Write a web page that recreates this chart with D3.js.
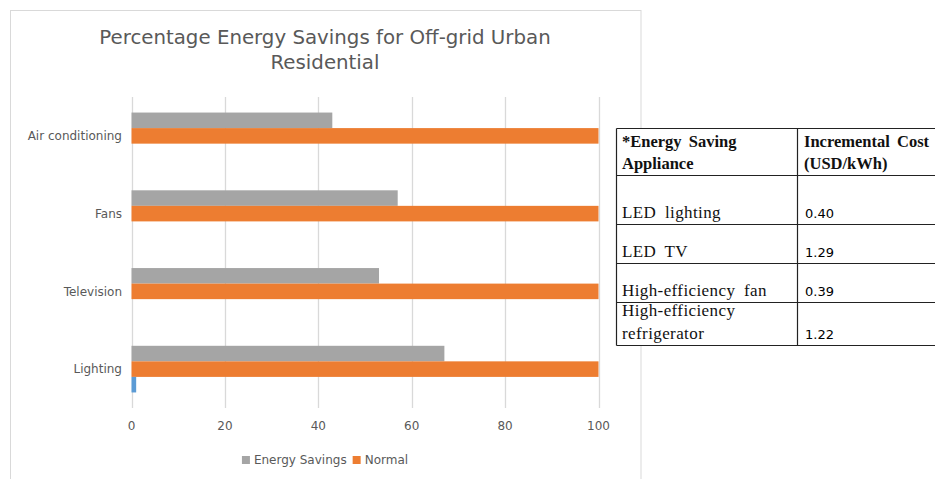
<!DOCTYPE html>
<html>
<head>
<meta charset="utf-8">
<script src="https://cdn.jsdelivr.net/npm/d3@7.9.0/dist/d3.min.js"></script>
<style>
  body { margin: 0; background: #fff; }
  svg { display: block; }
</style>
</head>
<body>
<svg id="chart" width="935" height="479"></svg>
<script>
// --- DATA ---
const categories = ["Air conditioning", "Fans", "Television", "Lighting"];
const seriesNames = ["Energy Savings", "Normal", "Series3"];
const energySavings = [43, 57, 53, 67];
const normal = [100, 100, 100, 100];
const thirdSeries = [0, 0, 0, 1];
const xTicks = [0, 20, 40, 60, 80, 100];
const legendNames = ["Energy Savings", "Normal"];

const tableHeader = [["*Energy Saving", "Appliance"], ["Incremental Cost", "(USD/kWh)"]];
const appliances = [["", "LED lighting"], ["", "LED TV"], ["", "High-efficiency fan"], ["High-efficiency", "refrigerator"]];
const costs = ["0.40", "1.29", "0.39", "1.22"];

const colors = { "Energy Savings": "#A5A5A5", "Normal": "#ED7D31", "Series3": "#5B9BD5" };
const textColor = "#595959";
const gridColor = "#D9D9D9";
const font = "'DejaVu Sans', sans-serif";

const svg = d3.select("#chart");

// --- CHART FRAME ---
svg.append("rect")
  .attr("x", 10.5).attr("y", 10.5)
  .attr("width", 630.5).attr("height", 490)
  .attr("fill", "#fff")
  .attr("stroke", gridColor)
  .attr("stroke-width", 1);

// --- TITLE ---
const title = svg.append("text")
  .attr("text-anchor", "middle")
  .attr("font-family", font)
  .attr("font-size", 19.8)
  .attr("fill", textColor);
title.append("tspan").attr("x", 325).attr("y", 44).text("Percentage Energy Savings for Off-grid Urban");
title.append("tspan").attr("x", 325).attr("y", 69).text("Residential");

// --- SCALES ---
const x = d3.scaleLinear().domain([0, 100]).range([131.5, 598.5]);
const y = d3.scaleBand().domain(categories).range([97, 408]).paddingInner(0.4).paddingOuter(0.2);
const ySub = d3.scaleBand().domain(seriesNames).range([0, y.bandwidth()]);

// gridlines
svg.append("g")
  .selectAll("line")
  .data(xTicks)
  .join("line")
  .attr("x1", d => Math.round(x(d)) + 0.5)
  .attr("x2", d => Math.round(x(d)) + 0.5)
  .attr("y1", 97).attr("y2", 408)
  .attr("stroke", gridColor)
  .attr("stroke-width", 1.3);

// bars
const rows = categories.map((c, i) => ({
  category: c,
  values: [
    { name: "Energy Savings", value: energySavings[i] },
    { name: "Normal", value: normal[i] },
    { name: "Series3", value: thirdSeries[i] }
  ]
}));

svg.append("g")
  .selectAll("g")
  .data(rows)
  .join("g")
  .attr("transform", d => `translate(0,${y(d.category)})`)
  .selectAll("rect")
  .data(d => d.values)
  .join("rect")
  .attr("x", x(0))
  .attr("y", d => ySub(d.name))
  .attr("width", d => x(d.value) - x(0))
  .attr("height", ySub.bandwidth())
  .attr("fill", d => colors[d.name]);

// category labels
svg.append("g")
  .selectAll("text")
  .data(categories)
  .join("text")
  .attr("x", 122)
  .attr("y", d => y(d) + y.bandwidth() / 2)
  .attr("dy", "0.35em")
  .attr("text-anchor", "end")
  .attr("font-family", font)
  .attr("font-size", 12)
  .attr("fill", textColor)
  .text(d => d);

// x tick labels
svg.append("g")
  .selectAll("text")
  .data(xTicks)
  .join("text")
  .attr("x", d => x(d))
  .attr("y", 430)
  .attr("text-anchor", "middle")
  .attr("font-family", font)
  .attr("font-size", 12)
  .attr("fill", textColor)
  .text(d => d);

// --- LEGEND ---
const legend = svg.append("g");
let lx = 0;
legendNames.forEach(name => {
  const item = legend.append("g").attr("transform", `translate(${lx},0)`);
  item.append("rect").attr("x", 0).attr("y", -4).attr("width", 8).attr("height", 8).attr("fill", colors[name]);
  const t = item.append("text")
    .attr("x", 12).attr("y", 0).attr("dy", "0.35em")
    .attr("font-family", font).attr("font-size", 12).attr("fill", textColor)
    .text(name);
  lx += 12 + t.node().getComputedTextLength() + 6;
});
legend.attr("transform", `translate(${325 - (lx - 6) / 2},460)`);

// --- TABLE ---
const tableX = 616.5, colX = 797.5, tableRight = 960;
const rowLines = [128.5, 175.5, 224.5, 263.5, 302.5, 345.5];
const table = svg.append("g");
table.append("rect")
  .attr("x", tableX).attr("y", rowLines[0])
  .attr("width", tableRight - tableX).attr("height", rowLines[5] - rowLines[0])
  .attr("fill", "#fff");
table.selectAll("line.h")
  .data(rowLines)
  .join("line")
  .attr("class", "h")
  .attr("x1", tableX).attr("x2", tableRight)
  .attr("y1", d => d).attr("y2", d => d)
  .attr("stroke", "#222").attr("stroke-width", 1.2);
table.selectAll("line.v")
  .data([tableX, colX])
  .join("line")
  .attr("class", "v")
  .attr("x1", d => d).attr("x2", d => d)
  .attr("y1", rowLines[0]).attr("y2", rowLines[5])
  .attr("stroke", "#222").attr("stroke-width", 1.2);

const serif = "'Liberation Serif', 'DejaVu Serif', serif";
// header
tableHeader.forEach((lines, ci) => {
  lines.forEach((s, li) => {
    table.append("text")
      .attr("x", ci === 0 ? 622 : 804)
      .attr("y", 147 + li * 22)
      .attr("font-family", serif).attr("font-size", 16.5).attr("font-weight", "bold")
      .attr("word-spacing", 3)
      .attr("fill", "#111")
      .text(s);
  });
});
// body rows
appliances.forEach((lines, ri) => {
  const bottom = rowLines[ri + 2];
  lines.forEach((s, li) => {
    if (!s) return;
    table.append("text")
      .attr("x", 622)
      .attr("y", bottom - 7 - (lines.length - 1 - li) * 23)
      .attr("font-family", serif).attr("font-size", 17)
      .attr("letter-spacing", 0.4)
      .attr("word-spacing", 4)
      .attr("fill", "#111")
      .text(s);
  });
  table.append("text")
    .attr("x", 805)
    .attr("y", bottom - 7)
    .attr("font-family", font).attr("font-size", 13)
    .attr("fill", "#000")
    .text(costs[ri]);
});
</script>
</body>
</html>
